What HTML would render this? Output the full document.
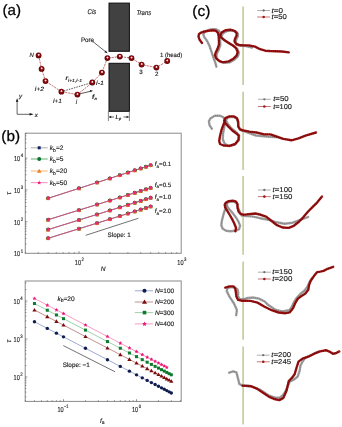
<!DOCTYPE html>
<html><head><meta charset="utf-8"><style>
html,body{margin:0;padding:0;background:#fff;width:342px;height:427px;overflow:hidden}
svg{display:block;font-family:"Liberation Sans", sans-serif;will-change:transform}
text{stroke:#222;stroke-width:0.15px;paint-order:stroke;text-rendering:geometricPrecision}
.B{stroke:#000;stroke-width:0.25px}
</style></head><body>
<svg width="342" height="427" viewBox="0 0 342 427">
<defs>
<radialGradient id="bg" cx="0.5" cy="0.5" r="0.55" fx="0.52" fy="0.36">
<stop offset="0" stop-color="#ffffff"/><stop offset="0.2" stop-color="#f0c4c4"/><stop offset="0.4" stop-color="#920c12"/><stop offset="0.78" stop-color="#720508"/><stop offset="1" stop-color="#3c0000"/>
</radialGradient>
<rect id="msq" x="-1.5" y="-1.5" width="3" height="3" fill="#102060"/>
<circle id="mci" r="2" fill="#107030"/>
<path id="mtr" d="M0,-2.3 L2.3,1.8 L-2.3,1.8z" fill="#f08020"/>
<path id="mst" d="M0,-2.2 L0.62,-0.78 L2.1,-0.68 L1,0.38 L1.32,1.85 L0,1.1 L-1.32,1.85 L-1,0.38 L-2.1,-0.68 L-0.62,-0.78z" fill="#f0207a"/>
<circle id="mci2" r="1.7" fill="#101c50"/>
<path id="mtr2" d="M0,-2.1 L2.1,1.5 L-2.1,1.5z" fill="#7a0c0c"/>
<rect id="msq2" x="-1.5" y="-1.5" width="3" height="3" fill="#0c7a2c"/>
<path id="mst2" d="M0,-2.1 L0.6,-0.75 L2,-0.65 L0.95,0.35 L1.25,1.75 L0,1.05 L-1.25,1.75 L-0.95,0.35 L-2,-0.65 L-0.6,-0.75z" fill="#ec1a74"/>
</defs>
<text x="2.5" y="15.3" font-size="15" text-anchor="start" fill="#000" textLength="18.5" lengthAdjust="spacingAndGlyphs" class="B">(a)</text>
<rect x="109" y="3.1" width="20.4" height="48.2" fill="#414141" stroke="#0e0e0e" stroke-width="1"/>
<rect x="109" y="63.3" width="20.4" height="48" fill="#414141" stroke="#0e0e0e" stroke-width="1"/>
<line x1="108.4" y1="111" x2="108.4" y2="121" stroke="#555" stroke-width="0.7"/>
<line x1="129.4" y1="111" x2="129.4" y2="121" stroke="#555" stroke-width="0.7"/>
<line x1="109" y1="117" x2="114" y2="117" stroke="#222" stroke-width="0.7"/>
<line x1="123.5" y1="117" x2="128.8" y2="117" stroke="#222" stroke-width="0.7"/>
<path d="M109,117 l2.2,-1.2 v2.4z M128.8,117 l-2.2,-1.2 v2.4z" fill="#222"/>
<text x="115.6" y="119" font-size="6" font-style="italic">L<tspan font-size="4" dy="1">p</tspan></text>
<text x="87.6" y="14.4" font-size="6.8" text-anchor="start" fill="#222" font-style="italic" textLength="8.6" lengthAdjust="spacingAndGlyphs">Cis</text>
<text x="136.4" y="14.6" font-size="7" text-anchor="start" fill="#222" font-style="italic" textLength="14.9" lengthAdjust="spacingAndGlyphs">Trans</text>
<text x="80.9" y="41.8" font-size="6.5" text-anchor="start" fill="#111" textLength="13.2" lengthAdjust="spacingAndGlyphs">Pore</text>
<line x1="92.6" y1="41.4" x2="105.5" y2="51.6" stroke="#222" stroke-width="0.7"/>
<path d="M107.5,53.2 L104.46,52.24 L105.8,50.5z" fill="#111"/>
<path d="M38.6,55.4 L41.6,68.9 L45.5,81.1 L61.4,91.7 L77.4,94.6 L92.3,82.5 L101.9,72.6 L107.4,58.1 L119.8,56.6 L131.5,58.1 L141.6,64.6 L156.4,67.6 L167.2,61" fill="none" stroke="#b85454" stroke-width="0.85" stroke-dasharray="2.2,0.9"/>
<line x1="61.4" y1="91.7" x2="92.3" y2="82.5" stroke="#222" stroke-width="0.8" stroke-dasharray="1.5,1.1"/>
<circle cx="38.6" cy="55.4" r="2.9" fill="url(#bg)"/>
<circle cx="41.6" cy="68.9" r="2.9" fill="url(#bg)"/>
<circle cx="45.5" cy="81.1" r="2.9" fill="url(#bg)"/>
<circle cx="61.4" cy="91.7" r="2.9" fill="url(#bg)"/>
<circle cx="77.4" cy="94.6" r="2.9" fill="url(#bg)"/>
<circle cx="92.3" cy="82.5" r="2.9" fill="url(#bg)"/>
<circle cx="101.9" cy="72.6" r="2.9" fill="url(#bg)"/>
<circle cx="107.4" cy="58.1" r="2.9" fill="url(#bg)"/>
<circle cx="119.8" cy="56.6" r="2.9" fill="url(#bg)"/>
<circle cx="131.5" cy="58.1" r="2.9" fill="url(#bg)"/>
<circle cx="141.6" cy="64.6" r="2.9" fill="url(#bg)"/>
<circle cx="156.4" cy="67.6" r="2.9" fill="url(#bg)"/>
<circle cx="167.2" cy="61" r="2.9" fill="url(#bg)"/>
<line x1="79" y1="94" x2="90" y2="91.4" stroke="#111" stroke-width="0.7"/>
<path d="M93,90.8 l-3.2,-0.7 l0.6,2.2z" fill="#111"/>
<text x="29.6" y="57.4" font-size="6.2" text-anchor="start" fill="#222" font-style="italic" textLength="4.3" lengthAdjust="spacingAndGlyphs">N</text>
<text x="34.8" y="90.7" font-size="6" text-anchor="start" fill="#222" font-style="italic" textLength="9.2" lengthAdjust="spacingAndGlyphs">i+2</text>
<text x="52.9" y="102.7" font-size="6" text-anchor="start" fill="#222" font-style="italic" textLength="9" lengthAdjust="spacingAndGlyphs">i+1</text>
<text x="75.8" y="104.1" font-size="6" text-anchor="start" fill="#222" font-style="italic">i</text>
<text x="96.1" y="85.3" font-size="6" text-anchor="start" fill="#222" font-style="italic" textLength="7.9" lengthAdjust="spacingAndGlyphs">i-1</text>
<text x="65.6" y="80.4" font-size="6.4" font-style="italic" font-weight="bold" fill="#222">r</text>
<text x="68" y="82.2" font-size="4.4" font-style="italic" fill="#222" textLength="14" lengthAdjust="spacingAndGlyphs">i+1,i-1</text>
<text x="91.9" y="98.7" font-size="6.6" font-style="italic" font-weight="bold" fill="#222">f</text>
<text x="94.4" y="100.1" font-size="4.2" font-style="italic" fill="#222">a</text>
<text x="139.2" y="73.5" font-size="6.2" text-anchor="start" fill="#222">3</text>
<text x="155" y="76.4" font-size="6.2" text-anchor="start" fill="#222">2</text>
<text x="159.9" y="57.4" font-size="6.2" text-anchor="start" fill="#222" textLength="22.4" lengthAdjust="spacingAndGlyphs">1 (head)</text>
<path d="M17.1,114.3 V101 M17.1,114.3 H30" stroke="#555" stroke-width="0.9" fill="none"/>
<path d="M17.1,98.2 L15.8,101.8 L18.4,101.8z M33.6,114.3 L29.6,113 L29.6,115.6z" fill="#111"/>
<text x="19" y="98.2" font-size="6.2" text-anchor="start" fill="#222" font-style="italic">y</text>
<text x="34.8" y="117.2" font-size="6.2" text-anchor="start" fill="#222" font-style="italic">x</text>
<text x="1.3" y="141.3" font-size="15" text-anchor="start" fill="#000" textLength="18.7" lengthAdjust="spacingAndGlyphs" class="B">(b)</text>
<rect x="25.3" y="133.2" width="155.89999999999998" height="120.10000000000002" fill="none" stroke="#8a8a8a" stroke-width="1"/>
<path d="M25.3,243.93h1.2 M25.3,238.33h1.2 M25.3,234.35h1.2 M25.3,231.27h1.2 M25.3,228.75h1.2 M25.3,226.63h1.2 M25.3,224.78h1.2 M25.3,223.16h1.2 M25.3,221.70h2.2 M25.3,212.13h1.2 M25.3,206.53h1.2 M25.3,202.55h1.2 M25.3,199.47h1.2 M25.3,196.95h1.2 M25.3,194.83h1.2 M25.3,192.98h1.2 M25.3,191.36h1.2 M25.3,189.90h2.2 M25.3,180.33h1.2 M25.3,174.73h1.2 M25.3,170.75h1.2 M25.3,167.67h1.2 M25.3,165.15h1.2 M25.3,163.03h1.2 M25.3,161.18h1.2 M25.3,159.56h1.2 M25.3,158.10h2.2 M25.3,148.53h1.2 M25.3,142.93h1.2 M25.3,138.95h1.2 M25.3,135.87h1.2 M25.3,133.35h1.2 M25.40,253.3v-1.2 M38.21,253.3v-1.2 M48.14,253.3v-1.2 M56.26,253.3v-1.2 M63.12,253.3v-1.2 M69.07,253.3v-1.2 M74.31,253.3v-1.2 M79.00,253.3v-2.2 M109.86,253.3v-1.2 M127.90,253.3v-1.2 M140.71,253.3v-1.2 M150.64,253.3v-1.2 M158.76,253.3v-1.2 M165.62,253.3v-1.2 M171.57,253.3v-1.2 M176.81,253.3v-1.2" stroke="#333" stroke-width="0.5" fill="none"/>
<text x="14.00" y="256.30" font-size="7.2" fill="#222" textLength="6.2" lengthAdjust="spacingAndGlyphs">10</text>
<text x="20.70" y="252.80" font-size="5" fill="#222" textLength="2.4" lengthAdjust="spacingAndGlyphs">1</text>
<text x="14.00" y="224.50" font-size="7.2" fill="#222" textLength="6.2" lengthAdjust="spacingAndGlyphs">10</text>
<text x="20.70" y="221.00" font-size="5" fill="#222" textLength="2.4" lengthAdjust="spacingAndGlyphs">2</text>
<text x="14.00" y="192.70" font-size="7.2" fill="#222" textLength="6.2" lengthAdjust="spacingAndGlyphs">10</text>
<text x="20.70" y="189.20" font-size="5" fill="#222" textLength="2.4" lengthAdjust="spacingAndGlyphs">3</text>
<text x="14.00" y="160.90" font-size="7.2" fill="#222" textLength="6.2" lengthAdjust="spacingAndGlyphs">10</text>
<text x="20.70" y="157.40" font-size="5" fill="#222" textLength="2.4" lengthAdjust="spacingAndGlyphs">4</text>
<text x="74.80" y="264.90" font-size="7.2" fill="#222" textLength="6.2" lengthAdjust="spacingAndGlyphs">10</text>
<text x="81.50" y="261.40" font-size="5" fill="#222" textLength="2.4" lengthAdjust="spacingAndGlyphs">2</text>
<text x="177.30" y="264.90" font-size="7.2" fill="#222" textLength="6.2" lengthAdjust="spacingAndGlyphs">10</text>
<text x="184.00" y="261.40" font-size="5" fill="#222" textLength="2.4" lengthAdjust="spacingAndGlyphs">3</text>
<text x="0" y="0" font-size="7" font-style="italic" fill="#222" transform="translate(10.9,194.8) rotate(-90)">τ</text>
<text x="100.8" y="271" font-size="6.6" text-anchor="start" fill="#222" font-style="italic">N</text>
<path d="M48.14,198.30 L79.00,188.34 L97.05,182.52 L109.86,178.39 L119.79,175.18 L127.90,172.56 L134.77,170.35 L140.71,168.43 L145.95,166.74 L150.64,165.23" fill="none" stroke="#555" stroke-width="0.9"/>
<path d="M48.14,198.30 L79.00,188.34 L97.05,182.52 L109.86,178.39 L119.79,175.18 L127.90,172.56 L134.77,170.35 L140.71,168.43 L145.95,166.74 L150.64,165.23" fill="none" stroke="#e85088" stroke-width="0.75"/>
<use href="#msq" x="48.14" y="198.30"/>
<use href="#mci" x="48.14" y="198.30"/>
<use href="#mtr" x="48.14" y="198.30"/>
<use href="#mst" x="48.14" y="198.30"/>
<use href="#msq" x="79.00" y="188.34"/>
<use href="#mci" x="79.00" y="188.34"/>
<use href="#mtr" x="79.00" y="188.34"/>
<use href="#mst" x="79.00" y="188.34"/>
<use href="#msq" x="97.05" y="182.52"/>
<use href="#mci" x="97.05" y="182.52"/>
<use href="#mtr" x="97.05" y="182.52"/>
<use href="#mst" x="97.05" y="182.52"/>
<use href="#msq" x="109.86" y="178.39"/>
<use href="#mci" x="109.86" y="178.39"/>
<use href="#mtr" x="109.86" y="178.39"/>
<use href="#mst" x="109.86" y="178.39"/>
<use href="#msq" x="119.79" y="175.18"/>
<use href="#mci" x="119.79" y="175.18"/>
<use href="#mtr" x="119.79" y="175.18"/>
<use href="#mst" x="119.79" y="175.18"/>
<use href="#msq" x="127.90" y="172.56"/>
<use href="#mci" x="127.90" y="172.56"/>
<use href="#mtr" x="127.90" y="172.56"/>
<use href="#mst" x="127.90" y="172.56"/>
<use href="#msq" x="134.77" y="170.35"/>
<use href="#mci" x="134.77" y="170.35"/>
<use href="#mtr" x="134.77" y="170.35"/>
<use href="#mst" x="134.77" y="170.35"/>
<use href="#msq" x="140.71" y="168.43"/>
<use href="#mci" x="140.71" y="168.43"/>
<use href="#mtr" x="140.71" y="168.43"/>
<use href="#mst" x="140.71" y="168.43"/>
<use href="#msq" x="145.95" y="166.74"/>
<use href="#mci" x="145.95" y="166.74"/>
<use href="#mtr" x="145.95" y="166.74"/>
<use href="#mst" x="145.95" y="166.74"/>
<use href="#msq" x="150.64" y="165.23"/>
<use href="#mci" x="150.64" y="165.23"/>
<use href="#mtr" x="150.64" y="165.23"/>
<use href="#mst" x="150.64" y="165.23"/>
<path d="M48.14,219.70 L79.00,210.13 L97.05,204.53 L109.86,200.55 L119.79,197.47 L127.90,194.95 L134.77,192.83 L140.71,190.98 L145.95,189.36 L150.64,187.90" fill="none" stroke="#555" stroke-width="0.9"/>
<path d="M48.14,219.70 L79.00,210.13 L97.05,204.53 L109.86,200.55 L119.79,197.47 L127.90,194.95 L134.77,192.83 L140.71,190.98 L145.95,189.36 L150.64,187.90" fill="none" stroke="#e85088" stroke-width="0.75"/>
<use href="#msq" x="48.14" y="219.70"/>
<use href="#mci" x="48.14" y="219.70"/>
<use href="#mtr" x="48.14" y="219.70"/>
<use href="#mst" x="48.14" y="219.70"/>
<use href="#msq" x="79.00" y="210.13"/>
<use href="#mci" x="79.00" y="210.13"/>
<use href="#mtr" x="79.00" y="210.13"/>
<use href="#mst" x="79.00" y="210.13"/>
<use href="#msq" x="97.05" y="204.53"/>
<use href="#mci" x="97.05" y="204.53"/>
<use href="#mtr" x="97.05" y="204.53"/>
<use href="#mst" x="97.05" y="204.53"/>
<use href="#msq" x="109.86" y="200.55"/>
<use href="#mci" x="109.86" y="200.55"/>
<use href="#mtr" x="109.86" y="200.55"/>
<use href="#mst" x="109.86" y="200.55"/>
<use href="#msq" x="119.79" y="197.47"/>
<use href="#mci" x="119.79" y="197.47"/>
<use href="#mtr" x="119.79" y="197.47"/>
<use href="#mst" x="119.79" y="197.47"/>
<use href="#msq" x="127.90" y="194.95"/>
<use href="#mci" x="127.90" y="194.95"/>
<use href="#mtr" x="127.90" y="194.95"/>
<use href="#mst" x="127.90" y="194.95"/>
<use href="#msq" x="134.77" y="192.83"/>
<use href="#mci" x="134.77" y="192.83"/>
<use href="#mtr" x="134.77" y="192.83"/>
<use href="#mst" x="134.77" y="192.83"/>
<use href="#msq" x="140.71" y="190.98"/>
<use href="#mci" x="140.71" y="190.98"/>
<use href="#mtr" x="140.71" y="190.98"/>
<use href="#mst" x="140.71" y="190.98"/>
<use href="#msq" x="145.95" y="189.36"/>
<use href="#mci" x="145.95" y="189.36"/>
<use href="#mtr" x="145.95" y="189.36"/>
<use href="#mst" x="145.95" y="189.36"/>
<use href="#msq" x="150.64" y="187.90"/>
<use href="#mci" x="150.64" y="187.90"/>
<use href="#mtr" x="150.64" y="187.90"/>
<use href="#mst" x="150.64" y="187.90"/>
<path d="M48.14,229.60 L79.00,220.03 L97.05,214.43 L109.86,210.45 L119.79,207.37 L127.90,204.85 L134.77,202.73 L140.71,200.88 L145.95,199.26 L150.64,197.80" fill="none" stroke="#555" stroke-width="0.9"/>
<path d="M48.14,229.60 L79.00,220.03 L97.05,214.43 L109.86,210.45 L119.79,207.37 L127.90,204.85 L134.77,202.73 L140.71,200.88 L145.95,199.26 L150.64,197.80" fill="none" stroke="#e85088" stroke-width="0.75"/>
<use href="#msq" x="48.14" y="229.60"/>
<use href="#mci" x="48.14" y="229.60"/>
<use href="#mtr" x="48.14" y="229.60"/>
<use href="#mst" x="48.14" y="229.60"/>
<use href="#msq" x="79.00" y="220.03"/>
<use href="#mci" x="79.00" y="220.03"/>
<use href="#mtr" x="79.00" y="220.03"/>
<use href="#mst" x="79.00" y="220.03"/>
<use href="#msq" x="97.05" y="214.43"/>
<use href="#mci" x="97.05" y="214.43"/>
<use href="#mtr" x="97.05" y="214.43"/>
<use href="#mst" x="97.05" y="214.43"/>
<use href="#msq" x="109.86" y="210.45"/>
<use href="#mci" x="109.86" y="210.45"/>
<use href="#mtr" x="109.86" y="210.45"/>
<use href="#mst" x="109.86" y="210.45"/>
<use href="#msq" x="119.79" y="207.37"/>
<use href="#mci" x="119.79" y="207.37"/>
<use href="#mtr" x="119.79" y="207.37"/>
<use href="#mst" x="119.79" y="207.37"/>
<use href="#msq" x="127.90" y="204.85"/>
<use href="#mci" x="127.90" y="204.85"/>
<use href="#mtr" x="127.90" y="204.85"/>
<use href="#mst" x="127.90" y="204.85"/>
<use href="#msq" x="134.77" y="202.73"/>
<use href="#mci" x="134.77" y="202.73"/>
<use href="#mtr" x="134.77" y="202.73"/>
<use href="#mst" x="134.77" y="202.73"/>
<use href="#msq" x="140.71" y="200.88"/>
<use href="#mci" x="140.71" y="200.88"/>
<use href="#mtr" x="140.71" y="200.88"/>
<use href="#mst" x="140.71" y="200.88"/>
<use href="#msq" x="145.95" y="199.26"/>
<use href="#mci" x="145.95" y="199.26"/>
<use href="#mtr" x="145.95" y="199.26"/>
<use href="#mst" x="145.95" y="199.26"/>
<use href="#msq" x="150.64" y="197.80"/>
<use href="#mci" x="150.64" y="197.80"/>
<use href="#mtr" x="150.64" y="197.80"/>
<use href="#mst" x="150.64" y="197.80"/>
<path d="M48.14,238.30 L79.00,228.73 L97.05,223.13 L109.86,219.15 L119.79,216.07 L127.90,213.55 L134.77,211.43 L140.71,209.58 L145.95,207.96 L150.64,206.50" fill="none" stroke="#555" stroke-width="0.9"/>
<path d="M48.14,238.30 L79.00,228.73 L97.05,223.13 L109.86,219.15 L119.79,216.07 L127.90,213.55 L134.77,211.43 L140.71,209.58 L145.95,207.96 L150.64,206.50" fill="none" stroke="#e85088" stroke-width="0.75"/>
<use href="#msq" x="48.14" y="238.30"/>
<use href="#mci" x="48.14" y="238.30"/>
<use href="#mtr" x="48.14" y="238.30"/>
<use href="#mst" x="48.14" y="238.30"/>
<use href="#msq" x="79.00" y="228.73"/>
<use href="#mci" x="79.00" y="228.73"/>
<use href="#mtr" x="79.00" y="228.73"/>
<use href="#mst" x="79.00" y="228.73"/>
<use href="#msq" x="97.05" y="223.13"/>
<use href="#mci" x="97.05" y="223.13"/>
<use href="#mtr" x="97.05" y="223.13"/>
<use href="#mst" x="97.05" y="223.13"/>
<use href="#msq" x="109.86" y="219.15"/>
<use href="#mci" x="109.86" y="219.15"/>
<use href="#mtr" x="109.86" y="219.15"/>
<use href="#mst" x="109.86" y="219.15"/>
<use href="#msq" x="119.79" y="216.07"/>
<use href="#mci" x="119.79" y="216.07"/>
<use href="#mtr" x="119.79" y="216.07"/>
<use href="#mst" x="119.79" y="216.07"/>
<use href="#msq" x="127.90" y="213.55"/>
<use href="#mci" x="127.90" y="213.55"/>
<use href="#mtr" x="127.90" y="213.55"/>
<use href="#mst" x="127.90" y="213.55"/>
<use href="#msq" x="134.77" y="211.43"/>
<use href="#mci" x="134.77" y="211.43"/>
<use href="#mtr" x="134.77" y="211.43"/>
<use href="#mst" x="134.77" y="211.43"/>
<use href="#msq" x="140.71" y="209.58"/>
<use href="#mci" x="140.71" y="209.58"/>
<use href="#mtr" x="140.71" y="209.58"/>
<use href="#mst" x="140.71" y="209.58"/>
<use href="#msq" x="145.95" y="207.96"/>
<use href="#mci" x="145.95" y="207.96"/>
<use href="#mtr" x="145.95" y="207.96"/>
<use href="#mst" x="145.95" y="207.96"/>
<use href="#msq" x="150.64" y="206.50"/>
<use href="#mci" x="150.64" y="206.50"/>
<use href="#mtr" x="150.64" y="206.50"/>
<use href="#mst" x="150.64" y="206.50"/>
<text x="154.8" y="166" font-size="6.2" fill="#222"><tspan font-style="italic">f</tspan><tspan font-size="4.5" dy="1.8">a</tspan><tspan dy="-1.8">=0.1</tspan></text>
<text x="154.8" y="186.6" font-size="6.2" fill="#222"><tspan font-style="italic">f</tspan><tspan font-size="4.5" dy="1.8">a</tspan><tspan dy="-1.8">=0.5</tspan></text>
<text x="154.8" y="199" font-size="6.2" fill="#222"><tspan font-style="italic">f</tspan><tspan font-size="4.5" dy="1.8">a</tspan><tspan dy="-1.8">=1.0</tspan></text>
<text x="154.8" y="212.7" font-size="6.2" fill="#222"><tspan font-style="italic">f</tspan><tspan font-size="4.5" dy="1.8">a</tspan><tspan dy="-1.8">=2.0</tspan></text>
<line x1="85.7" y1="235.3" x2="138.3" y2="218.3" stroke="#333" stroke-width="0.7"/>
<text x="107.6" y="236.9" font-size="6.3" text-anchor="start" fill="#222" textLength="23.2" lengthAdjust="spacingAndGlyphs">Slope: 1</text>
<line x1="30.8" y1="147.8" x2="47.7" y2="147.8" stroke="#999" stroke-width="0.8"/>
<use href="#msq" x="39.2" y="147.8"/>
<text x="49.8" y="150.10000000000002" font-size="6.6" fill="#222"><tspan font-style="italic">k</tspan><tspan font-size="5" dy="1.4">b</tspan><tspan dy="-1.4">=2</tspan></text>
<line x1="30.8" y1="159" x2="47.7" y2="159" stroke="#3aa050" stroke-width="0.8"/>
<use href="#mci" x="39.2" y="159"/>
<text x="49.8" y="161.3" font-size="6.6" fill="#222"><tspan font-style="italic">k</tspan><tspan font-size="5" dy="1.4">b</tspan><tspan dy="-1.4">=5</tspan></text>
<line x1="30.8" y1="171" x2="47.7" y2="171" stroke="#f5a050" stroke-width="0.8"/>
<use href="#mtr" x="39.2" y="171"/>
<text x="49.8" y="173.3" font-size="6.6" fill="#222"><tspan font-style="italic">k</tspan><tspan font-size="5" dy="1.4">b</tspan><tspan dy="-1.4">=20</tspan></text>
<line x1="30.8" y1="182.7" x2="47.7" y2="182.7" stroke="#f070a8" stroke-width="0.8"/>
<use href="#mst" x="39.2" y="182.7"/>
<text x="49.8" y="185.0" font-size="6.6" fill="#222"><tspan font-style="italic">k</tspan><tspan font-size="5" dy="1.4">b</tspan><tspan dy="-1.4">=50</tspan></text>
<rect x="25.2" y="281.0" width="156.0" height="120.39999999999998" fill="none" stroke="#8a8a8a" stroke-width="1"/>
<path d="M25.2,396.87h1.2 M25.2,392.12h1.2 M25.2,388.44h1.2 M25.2,385.43h1.2 M25.2,382.89h1.2 M25.2,380.68h1.2 M25.2,378.74h1.2 M25.2,377.00h2.2 M25.2,365.56h1.2 M25.2,358.87h1.2 M25.2,354.12h1.2 M25.2,350.44h1.2 M25.2,347.43h1.2 M25.2,344.89h1.2 M25.2,342.68h1.2 M25.2,340.74h1.2 M25.2,339.00h2.2 M25.2,327.56h1.2 M25.2,320.87h1.2 M25.2,316.12h1.2 M25.2,312.44h1.2 M25.2,309.43h1.2 M25.2,306.89h1.2 M25.2,304.68h1.2 M25.2,302.74h1.2 M25.2,301.00h2.2 M25.2,289.56h1.2 M25.2,282.87h1.2 M25.33,401.4v-1.2 M34.45,401.4v-1.2 M41.52,401.4v-1.2 M47.31,401.4v-1.2 M52.19,401.4v-1.2 M56.43,401.4v-1.2 M60.16,401.4v-1.2 M63.50,401.4v-2.2 M85.48,401.4v-1.2 M98.33,401.4v-1.2 M107.45,401.4v-1.2 M114.52,401.4v-1.2 M120.31,401.4v-1.2 M125.19,401.4v-1.2 M129.43,401.4v-1.2 M133.16,401.4v-1.2 M136.50,401.4v-2.2 M158.48,401.4v-1.2 M171.33,401.4v-1.2 M180.45,401.4v-1.2" stroke="#333" stroke-width="0.5" fill="none"/>
<text x="13.60" y="379.80" font-size="7.2" fill="#222" textLength="6.2" lengthAdjust="spacingAndGlyphs">10</text>
<text x="20.30" y="376.30" font-size="5" fill="#222" textLength="2.4" lengthAdjust="spacingAndGlyphs">2</text>
<text x="13.60" y="341.80" font-size="7.2" fill="#222" textLength="6.2" lengthAdjust="spacingAndGlyphs">10</text>
<text x="20.30" y="338.30" font-size="5" fill="#222" textLength="2.4" lengthAdjust="spacingAndGlyphs">3</text>
<text x="13.60" y="303.80" font-size="7.2" fill="#222" textLength="6.2" lengthAdjust="spacingAndGlyphs">10</text>
<text x="20.30" y="300.30" font-size="5" fill="#222" textLength="2.4" lengthAdjust="spacingAndGlyphs">4</text>
<text x="57.40" y="411.50" font-size="7.2" fill="#222" textLength="6.2" lengthAdjust="spacingAndGlyphs">10</text>
<text x="64.10" y="408.00" font-size="5" fill="#222" textLength="4.4" lengthAdjust="spacingAndGlyphs">−1</text>
<text x="132.00" y="411.50" font-size="7.2" fill="#222" textLength="6.2" lengthAdjust="spacingAndGlyphs">10</text>
<text x="138.70" y="408.00" font-size="5" fill="#222" textLength="2.4" lengthAdjust="spacingAndGlyphs">0</text>
<text x="0" y="0" font-size="7" font-style="italic" fill="#222" transform="translate(11,342.4) rotate(-90)">τ</text>
<text x="100" y="422.8" font-size="6.4" fill="#222"><tspan font-style="italic">f</tspan><tspan font-size="5" dy="1.6">a</tspan></text>
<path d="M34.45,321.72 L47.31,328.41 L56.43,333.16 L63.50,336.84 L85.48,348.28 L107.45,359.72 L120.31,366.41 L129.43,371.16 L136.50,374.84 L142.28,377.85 L147.17,380.39 L151.40,382.59 L155.13,384.54 L158.48,386.28 L161.50,387.85 L164.26,389.29 L166.79,390.61 L169.14,391.83 L171.33,392.97" fill="none" stroke="#8696c4" stroke-width="0.8"/>
<use href="#mci2" x="34.45" y="321.72"/>
<use href="#mci2" x="47.31" y="328.41"/>
<use href="#mci2" x="56.43" y="333.16"/>
<use href="#mci2" x="63.50" y="336.84"/>
<use href="#mci2" x="85.48" y="348.28"/>
<use href="#mci2" x="107.45" y="359.72"/>
<use href="#mci2" x="120.31" y="366.41"/>
<use href="#mci2" x="129.43" y="371.16"/>
<use href="#mci2" x="136.50" y="374.84"/>
<use href="#mci2" x="142.28" y="377.85"/>
<use href="#mci2" x="147.17" y="380.39"/>
<use href="#mci2" x="151.40" y="382.59"/>
<use href="#mci2" x="155.13" y="384.54"/>
<use href="#mci2" x="158.48" y="386.28"/>
<use href="#mci2" x="161.50" y="387.85"/>
<use href="#mci2" x="164.26" y="389.29"/>
<use href="#mci2" x="166.79" y="390.61"/>
<use href="#mci2" x="169.14" y="391.83"/>
<use href="#mci2" x="171.33" y="392.97"/>
<path d="M34.45,309.99 L47.31,316.68 L56.43,321.43 L63.50,325.11 L85.48,336.55 L107.45,347.99 L120.31,354.68 L129.43,359.43 L136.50,363.11 L142.28,366.12 L147.17,368.66 L151.40,370.87 L155.13,372.81 L158.48,374.55 L161.50,376.12 L164.26,377.56 L166.79,378.88 L169.14,380.10 L171.33,381.24" fill="none" stroke="#b47474" stroke-width="0.8"/>
<use href="#mtr2" x="34.45" y="309.99"/>
<use href="#mtr2" x="47.31" y="316.68"/>
<use href="#mtr2" x="56.43" y="321.43"/>
<use href="#mtr2" x="63.50" y="325.11"/>
<use href="#mtr2" x="85.48" y="336.55"/>
<use href="#mtr2" x="107.45" y="347.99"/>
<use href="#mtr2" x="120.31" y="354.68"/>
<use href="#mtr2" x="129.43" y="359.43"/>
<use href="#mtr2" x="136.50" y="363.11"/>
<use href="#mtr2" x="142.28" y="366.12"/>
<use href="#mtr2" x="147.17" y="368.66"/>
<use href="#mtr2" x="151.40" y="370.87"/>
<use href="#mtr2" x="155.13" y="372.81"/>
<use href="#mtr2" x="158.48" y="374.55"/>
<use href="#mtr2" x="161.50" y="376.12"/>
<use href="#mtr2" x="164.26" y="377.56"/>
<use href="#mtr2" x="166.79" y="378.88"/>
<use href="#mtr2" x="169.14" y="380.10"/>
<use href="#mtr2" x="171.33" y="381.24"/>
<path d="M34.45,303.54 L47.31,310.23 L56.43,314.98 L63.50,318.66 L85.48,330.10 L107.45,341.54 L120.31,348.23 L129.43,352.98 L136.50,356.66 L142.28,359.67 L147.17,362.21 L151.40,364.42 L155.13,366.36 L158.48,368.10 L161.50,369.67 L164.26,371.11 L166.79,372.43 L169.14,373.65 L171.33,374.79" fill="none" stroke="#84c494" stroke-width="0.8"/>
<use href="#msq2" x="34.45" y="303.54"/>
<use href="#msq2" x="47.31" y="310.23"/>
<use href="#msq2" x="56.43" y="314.98"/>
<use href="#msq2" x="63.50" y="318.66"/>
<use href="#msq2" x="85.48" y="330.10"/>
<use href="#msq2" x="107.45" y="341.54"/>
<use href="#msq2" x="120.31" y="348.23"/>
<use href="#msq2" x="129.43" y="352.98"/>
<use href="#msq2" x="136.50" y="356.66"/>
<use href="#msq2" x="142.28" y="359.67"/>
<use href="#msq2" x="147.17" y="362.21"/>
<use href="#msq2" x="151.40" y="364.42"/>
<use href="#msq2" x="155.13" y="366.36"/>
<use href="#msq2" x="158.48" y="368.10"/>
<use href="#msq2" x="161.50" y="369.67"/>
<use href="#msq2" x="164.26" y="371.11"/>
<use href="#msq2" x="166.79" y="372.43"/>
<use href="#msq2" x="169.14" y="373.65"/>
<use href="#msq2" x="171.33" y="374.79"/>
<path d="M34.45,298.48 L47.31,305.17 L56.43,309.92 L63.50,313.60 L85.48,325.04 L107.45,336.48 L120.31,343.17 L129.43,347.92 L136.50,351.60 L142.28,354.61 L147.17,357.15 L151.40,359.36 L155.13,361.30 L158.48,363.04 L161.50,364.61 L164.26,366.05 L166.79,367.37" fill="none" stroke="#f484b4" stroke-width="0.8"/>
<use href="#mst2" x="34.45" y="298.48"/>
<use href="#mst2" x="47.31" y="305.17"/>
<use href="#mst2" x="56.43" y="309.92"/>
<use href="#mst2" x="63.50" y="313.60"/>
<use href="#mst2" x="85.48" y="325.04"/>
<use href="#mst2" x="107.45" y="336.48"/>
<use href="#mst2" x="120.31" y="343.17"/>
<use href="#mst2" x="129.43" y="347.92"/>
<use href="#mst2" x="136.50" y="351.60"/>
<use href="#mst2" x="142.28" y="354.61"/>
<use href="#mst2" x="147.17" y="357.15"/>
<use href="#mst2" x="151.40" y="359.36"/>
<use href="#mst2" x="155.13" y="361.30"/>
<use href="#mst2" x="158.48" y="363.04"/>
<use href="#mst2" x="161.50" y="364.61"/>
<use href="#mst2" x="164.26" y="366.05"/>
<use href="#mst2" x="166.79" y="367.37"/>
<line x1="63.3" y1="345.6" x2="115.1" y2="371.8" stroke="#333" stroke-width="0.7"/>
<text x="62.7" y="367.2" font-size="6.3" text-anchor="start" fill="#222" textLength="27.2" lengthAdjust="spacingAndGlyphs">Slope: −1</text>
<text x="57.4" y="301" font-size="6.6" fill="#222"><tspan font-style="italic">k</tspan><tspan font-size="5" dy="1.4">b</tspan><tspan dy="-1.4">=20</tspan></text>
<line x1="134.8" y1="290.8" x2="153" y2="290.8" stroke="#8696c4" stroke-width="0.8"/>
<use href="#mci2" transform="translate(144.5,290.8) scale(1.2)"/>
<text x="154.9" y="293.0" font-size="6.5" fill="#222" textLength="19.3" lengthAdjust="spacingAndGlyphs"><tspan font-style="italic">N</tspan>=100</text>
<line x1="134.8" y1="302" x2="153" y2="302" stroke="#b47474" stroke-width="0.8"/>
<use href="#mtr2" transform="translate(144.5,302) scale(1.2)"/>
<text x="154.9" y="304.2" font-size="6.5" fill="#222" textLength="19.3" lengthAdjust="spacingAndGlyphs"><tspan font-style="italic">N</tspan>=200</text>
<line x1="134.8" y1="312.6" x2="153" y2="312.6" stroke="#84c494" stroke-width="0.8"/>
<use href="#msq2" transform="translate(144.5,312.6) scale(1.2)"/>
<text x="154.9" y="314.8" font-size="6.5" fill="#222" textLength="19.3" lengthAdjust="spacingAndGlyphs"><tspan font-style="italic">N</tspan>=300</text>
<line x1="134.8" y1="323.9" x2="153" y2="323.9" stroke="#f484b4" stroke-width="0.8"/>
<use href="#mst2" transform="translate(144.5,323.9) scale(1.2)"/>
<text x="154.9" y="326.09999999999997" font-size="6.5" fill="#222" textLength="19.3" lengthAdjust="spacingAndGlyphs"><tspan font-style="italic">N</tspan>=400</text>
<text x="192.3" y="16.4" font-size="15" text-anchor="start" fill="#000" textLength="18" lengthAdjust="spacingAndGlyphs" class="B">(c)</text>
<line x1="243.1" y1="6.4" x2="243.1" y2="85" stroke="#c2c690" stroke-width="1.5"/>
<line x1="243.1" y1="91.8" x2="243.1" y2="170.1" stroke="#c2c690" stroke-width="1.5"/>
<line x1="243.1" y1="176" x2="243.1" y2="254.7" stroke="#c2c690" stroke-width="1.5"/>
<line x1="243.1" y1="261.4" x2="243.1" y2="339.7" stroke="#c2c690" stroke-width="1.5"/>
<line x1="243.1" y1="346.4" x2="243.1" y2="424.5" stroke="#c2c690" stroke-width="1.5"/>
<line x1="257.2" y1="10.5" x2="270.09999999999997" y2="10.5" stroke="#9a9a9a" stroke-width="0.8"/>
<circle cx="263.65" cy="10.5" r="1.15" fill="#707070"/>
<line x1="257.2" y1="17.0" x2="270.09999999999997" y2="17.0" stroke="#b85858" stroke-width="0.8"/>
<circle cx="263.65" cy="17.0" r="1.3" fill="#a01818"/>
<text x="271.5" y="12.6" font-size="7" fill="#222" textLength="11.5" lengthAdjust="spacingAndGlyphs"><tspan font-style="italic">t</tspan>=0</text>
<text x="271.5" y="19.1" font-size="7" fill="#222" textLength="15.2" lengthAdjust="spacingAndGlyphs"><tspan font-style="italic">t</tspan>=50</text>
<path d="M216.40,66.60 L215.40,62.90 L213.80,58.70 L211.70,52.40 L209.60,46.10 L207.00,40.80 L204.30,37.10 L203.30,34.50 L204.30,32.60 L207.50,30.50 L211.70,29.20 L215.90,29.20 L219.00,30.80 L220.30,33.60 L220.00,37.40 L220.20,41.60 L220.30,45.30 L218.80,49.70 L217.00,53.30 L216.30,56.30 L217.50,59.10 L219.80,61.30 L222.80,62.70 L225.30,62.90 L230.00,62.20 L234.70,59.50 L237.90,56.40 L239.00,52.70 L237.40,49.00 L234.20,46.30 L230.00,43.70 L225.80,41.10 L222.10,37.90 L221.60,35.80 L223.10,33.20 L226.80,31.10 L231.60,30.50 L235.80,31.60 L237.90,33.70 L237.90,36.30 L236.30,39.50 L235.80,42.10 L237.40,44.80 L240.50,45.80 L246.00,46.00 L252.00,47.50" fill="none" stroke="#a6a6a6" stroke-width="2.4" stroke-linejoin="round" stroke-linecap="round"/>
<path d="M216.40,66.60 L215.40,62.90 L213.80,58.70 L211.70,52.40 L209.60,46.10 L207.00,40.80 L204.30,37.10 L203.30,34.50 L204.30,32.60 L207.50,30.50 L211.70,29.20 L215.90,29.20 L219.00,30.80 L220.30,33.60 L220.00,37.40 L220.20,41.60 L220.30,45.30 L218.80,49.70 L217.00,53.30 L216.30,56.30 L217.50,59.10 L219.80,61.30 L222.80,62.70 L225.30,62.90 L230.00,62.20 L234.70,59.50 L237.90,56.40 L239.00,52.70 L237.40,49.00 L234.20,46.30 L230.00,43.70 L225.80,41.10 L222.10,37.90 L221.60,35.80 L223.10,33.20 L226.80,31.10 L231.60,30.50 L235.80,31.60 L237.90,33.70 L237.90,36.30 L236.30,39.50 L235.80,42.10 L237.40,44.80 L240.50,45.80 L246.00,46.00 L252.00,47.50" fill="none" stroke="#848484" stroke-width="1.4" stroke-dasharray="0.01 1.9" stroke-linejoin="round" stroke-linecap="round"/>
<path d="M202.00,42.90 L199.60,39.80 L198.50,36.60 L199.00,34.00 L201.20,32.60 L204.30,31.50 L208.50,30.80 L212.80,30.30 L215.90,30.80 L218.00,32.90 L218.70,36.60 L218.90,40.80 L219.00,44.50 L217.50,48.90 L215.70,52.50 L215.00,55.50 L216.20,58.30 L218.50,60.50 L221.50,61.90 L224.00,62.10 L228.70,61.40 L233.40,58.70 L236.60,55.60 L237.70,51.90 L236.10,48.20 L232.90,45.50 L228.70,42.90 L224.50,40.30 L220.80,37.10 L220.30,35.00 L221.80,32.40 L225.50,30.30 L230.30,29.70 L234.50,30.80 L236.60,32.90 L236.60,35.50 L235.00,38.70 L234.50,41.30 L236.10,44.00 L239.20,45.00 L242.60,45.20 L249.00,45.40 L255.00,46.60 L260.10,49.20 L265.20,50.70 L270.00,51.00 L275.50,51.20 L282.00,51.50 L288.80,52.40" fill="none" stroke="#a01818" stroke-width="2.4" stroke-linejoin="round" stroke-linecap="round"/>
<path d="M202.00,42.90 L199.60,39.80 L198.50,36.60 L199.00,34.00 L201.20,32.60 L204.30,31.50 L208.50,30.80 L212.80,30.30 L215.90,30.80 L218.00,32.90 L218.70,36.60 L218.90,40.80 L219.00,44.50 L217.50,48.90 L215.70,52.50 L215.00,55.50 L216.20,58.30 L218.50,60.50 L221.50,61.90 L224.00,62.10 L228.70,61.40 L233.40,58.70 L236.60,55.60 L237.70,51.90 L236.10,48.20 L232.90,45.50 L228.70,42.90 L224.50,40.30 L220.80,37.10 L220.30,35.00 L221.80,32.40 L225.50,30.30 L230.30,29.70 L234.50,30.80 L236.60,32.90 L236.60,35.50 L235.00,38.70 L234.50,41.30 L236.10,44.00 L239.20,45.00 L242.60,45.20 L249.00,45.40 L255.00,46.60 L260.10,49.20 L265.20,50.70 L270.00,51.00 L275.50,51.20 L282.00,51.50 L288.80,52.40" fill="none" stroke="#700606" stroke-width="1.4" stroke-dasharray="0.01 1.9" stroke-linejoin="round" stroke-linecap="round"/>
<line x1="257.9" y1="99.3" x2="270.79999999999995" y2="99.3" stroke="#9a9a9a" stroke-width="0.8"/>
<circle cx="264.34999999999997" cy="99.3" r="1.15" fill="#707070"/>
<line x1="257.9" y1="106.5" x2="270.79999999999995" y2="106.5" stroke="#b85858" stroke-width="0.8"/>
<circle cx="264.34999999999997" cy="106.5" r="1.3" fill="#a01818"/>
<text x="273.2" y="101.39999999999999" font-size="7" fill="#222" textLength="15.4" lengthAdjust="spacingAndGlyphs"><tspan font-style="italic">t</tspan>=50</text>
<text x="273.2" y="108.6" font-size="7" fill="#222" textLength="18.8" lengthAdjust="spacingAndGlyphs"><tspan font-style="italic">t</tspan>=100</text>
<path d="M211.80,128.70 L209.50,125.20 L208.90,121.10 L210.70,118.20 L214.80,115.80 L219.50,115.60 L223.00,117.00 L224.70,119.40 L225.00,123.00 L224.10,128.00 L223.00,134.00 L222.80,139.20 L224.70,143.90 L229.40,146.20 L234.70,144.60 L238.80,140.50 L239.20,135.50 L236.50,132.50 L231.00,128.00 L227.60,123.50 L226.00,120.00 L228.00,117.20 L233.00,116.80 L236.80,118.80 L238.00,122.50 L238.60,127.00 L240.50,130.00 L244.00,131.20 L247.90,132.60 L255.80,135.50 L263.70,136.30 L272.90,137.10 L276.80,137.10" fill="none" stroke="#a6a6a6" stroke-width="2.4" stroke-linejoin="round" stroke-linecap="round"/>
<path d="M211.80,128.70 L209.50,125.20 L208.90,121.10 L210.70,118.20 L214.80,115.80 L219.50,115.60 L223.00,117.00 L224.70,119.40 L225.00,123.00 L224.10,128.00 L223.00,134.00 L222.80,139.20 L224.70,143.90 L229.40,146.20 L234.70,144.60 L238.80,140.50 L239.20,135.50 L236.50,132.50 L231.00,128.00 L227.60,123.50 L226.00,120.00 L228.00,117.20 L233.00,116.80 L236.80,118.80 L238.00,122.50 L238.60,127.00 L240.50,130.00 L244.00,131.20 L247.90,132.60 L255.80,135.50 L263.70,136.30 L272.90,137.10 L276.80,137.10" fill="none" stroke="#848484" stroke-width="1.4" stroke-dasharray="0.01 1.9" stroke-linejoin="round" stroke-linecap="round"/>
<path d="M225.00,120.50 L223.50,124.50 L221.50,130.00 L220.00,136.00 L219.20,141.00 L220.00,144.00 L223.50,145.50 L229.40,145.90 L235.20,144.00 L238.50,139.80 L238.70,135.70 L236.40,133.40 L232.30,130.50 L228.20,126.40 L225.30,122.90 L224.10,120.50 L225.30,118.20 L229.40,116.40 L234.10,116.40 L237.00,118.20 L238.20,121.70 L238.20,126.40 L240.00,129.30 L243.40,130.50 L249.40,131.60 L256.40,132.50 L263.40,134.20 L270.40,134.40 L276.30,136.50 L283.30,138.90 L291.50,140.30 L298.50,138.40 L305.50,135.60 L316.00,132.50" fill="none" stroke="#a01818" stroke-width="2.4" stroke-linejoin="round" stroke-linecap="round"/>
<path d="M225.00,120.50 L223.50,124.50 L221.50,130.00 L220.00,136.00 L219.20,141.00 L220.00,144.00 L223.50,145.50 L229.40,145.90 L235.20,144.00 L238.50,139.80 L238.70,135.70 L236.40,133.40 L232.30,130.50 L228.20,126.40 L225.30,122.90 L224.10,120.50 L225.30,118.20 L229.40,116.40 L234.10,116.40 L237.00,118.20 L238.20,121.70 L238.20,126.40 L240.00,129.30 L243.40,130.50 L249.40,131.60 L256.40,132.50 L263.40,134.20 L270.40,134.40 L276.30,136.50 L283.30,138.90 L291.50,140.30 L298.50,138.40 L305.50,135.60 L316.00,132.50" fill="none" stroke="#700606" stroke-width="1.4" stroke-dasharray="0.01 1.9" stroke-linejoin="round" stroke-linecap="round"/>
<line x1="257.9" y1="190" x2="270.79999999999995" y2="190" stroke="#9a9a9a" stroke-width="0.8"/>
<circle cx="264.34999999999997" cy="190" r="1.15" fill="#707070"/>
<line x1="257.9" y1="196.6" x2="270.79999999999995" y2="196.6" stroke="#b85858" stroke-width="0.8"/>
<circle cx="264.34999999999997" cy="196.6" r="1.3" fill="#a01818"/>
<text x="272.6" y="192.1" font-size="7" fill="#222" textLength="19.8" lengthAdjust="spacingAndGlyphs"><tspan font-style="italic">t</tspan>=100</text>
<text x="272.6" y="198.7" font-size="7" fill="#222" textLength="19.8" lengthAdjust="spacingAndGlyphs"><tspan font-style="italic">t</tspan>=150</text>
<path d="M226.80,203.50 L226.50,207.00 L224.70,210.40 L223.20,215.50 L221.90,220.60 L221.30,225.20 L222.70,228.80 L226.20,230.80 L230.30,231.30 L234.90,230.80 L239.00,229.30 L240.10,225.70 L238.50,221.60 L236.00,217.50 L232.90,213.40 L229.30,209.30 L227.30,206.30 L226.70,203.70 L228.50,202.00 L233.00,201.50 L236.50,203.00 L238.00,207.30 L239.20,210.60 L241.60,215.50 L246.00,216.00 L250.80,216.20 L260.00,218.20 L268.20,219.70 L276.40,222.30 L284.60,223.80 L292.70,222.70 L301.00,219.70 L308.10,217.00" fill="none" stroke="#a6a6a6" stroke-width="2.4" stroke-linejoin="round" stroke-linecap="round"/>
<path d="M226.80,203.50 L226.50,207.00 L224.70,210.40 L223.20,215.50 L221.90,220.60 L221.30,225.20 L222.70,228.80 L226.20,230.80 L230.30,231.30 L234.90,230.80 L239.00,229.30 L240.10,225.70 L238.50,221.60 L236.00,217.50 L232.90,213.40 L229.30,209.30 L227.30,206.30 L226.70,203.70 L228.50,202.00 L233.00,201.50 L236.50,203.00 L238.00,207.30 L239.20,210.60 L241.60,215.50 L246.00,216.00 L250.80,216.20 L260.00,218.20 L268.20,219.70 L276.40,222.30 L284.60,223.80 L292.70,222.70 L301.00,219.70 L308.10,217.00" fill="none" stroke="#848484" stroke-width="1.4" stroke-dasharray="0.01 1.9" stroke-linejoin="round" stroke-linecap="round"/>
<path d="M235.40,231.30 L236.00,227.80 L234.40,223.70 L232.40,219.60 L229.80,215.00 L227.30,210.90 L225.20,207.30 L224.70,204.70 L225.70,202.70 L228.80,201.10 L232.90,200.60 L236.00,201.70 L237.50,204.20 L237.50,207.80 L238.50,211.40 L240.60,213.90 L243.10,214.70 L246.70,214.40 L250.80,213.90 L255.30,213.50 L259.70,214.50 L266.10,216.60 L271.30,220.70 L276.40,224.80 L282.50,227.50 L288.70,227.90 L293.80,225.80 L298.90,221.70 L303.00,217.60 L308.10,211.50 L313.20,206.40 L317.30,202.30 L322.00,196.40" fill="none" stroke="#a01818" stroke-width="2.4" stroke-linejoin="round" stroke-linecap="round"/>
<path d="M235.40,231.30 L236.00,227.80 L234.40,223.70 L232.40,219.60 L229.80,215.00 L227.30,210.90 L225.20,207.30 L224.70,204.70 L225.70,202.70 L228.80,201.10 L232.90,200.60 L236.00,201.70 L237.50,204.20 L237.50,207.80 L238.50,211.40 L240.60,213.90 L243.10,214.70 L246.70,214.40 L250.80,213.90 L255.30,213.50 L259.70,214.50 L266.10,216.60 L271.30,220.70 L276.40,224.80 L282.50,227.50 L288.70,227.90 L293.80,225.80 L298.90,221.70 L303.00,217.60 L308.10,211.50 L313.20,206.40 L317.30,202.30 L322.00,196.40" fill="none" stroke="#700606" stroke-width="1.4" stroke-dasharray="0.01 1.9" stroke-linejoin="round" stroke-linecap="round"/>
<line x1="257.9" y1="272.2" x2="270.79999999999995" y2="272.2" stroke="#9a9a9a" stroke-width="0.8"/>
<circle cx="264.34999999999997" cy="272.2" r="1.15" fill="#707070"/>
<line x1="257.9" y1="279" x2="270.79999999999995" y2="279" stroke="#b85858" stroke-width="0.8"/>
<circle cx="264.34999999999997" cy="279" r="1.3" fill="#a01818"/>
<text x="272.3" y="274.3" font-size="7" fill="#222" textLength="20" lengthAdjust="spacingAndGlyphs"><tspan font-style="italic">t</tspan>=150</text>
<text x="272.3" y="281.1" font-size="7" fill="#222" textLength="20" lengthAdjust="spacingAndGlyphs"><tspan font-style="italic">t</tspan>=200</text>
<path d="M236.20,315.20 L236.90,310.10 L234.00,303.50 L229.60,296.90 L226.70,291.10 L227.40,288.20 L231.10,287.00 L235.50,287.90 L237.70,289.60 L238.20,292.50 L238.00,296.00 L239.50,299.00 L243.00,299.30 L247.90,298.00 L253.00,297.50 L258.90,298.60 L264.70,301.50 L268.00,304.80 L275.10,309.60 L282.10,311.40 L289.10,310.20 L291.40,307.50 L294.00,302.00 L297.00,297.50 L300.30,294.00 L304.30,290.80 L307.50,286.80 L309.50,282.00 L312.00,278.00" fill="none" stroke="#a6a6a6" stroke-width="2.4" stroke-linejoin="round" stroke-linecap="round"/>
<path d="M236.20,315.20 L236.90,310.10 L234.00,303.50 L229.60,296.90 L226.70,291.10 L227.40,288.20 L231.10,287.00 L235.50,287.90 L237.70,289.60 L238.20,292.50 L238.00,296.00 L239.50,299.00 L243.00,299.30 L247.90,298.00 L253.00,297.50 L258.90,298.60 L264.70,301.50 L268.00,304.80 L275.10,309.60 L282.10,311.40 L289.10,310.20 L291.40,307.50 L294.00,302.00 L297.00,297.50 L300.30,294.00 L304.30,290.80 L307.50,286.80 L309.50,282.00 L312.00,278.00" fill="none" stroke="#848484" stroke-width="1.4" stroke-dasharray="0.01 1.9" stroke-linejoin="round" stroke-linecap="round"/>
<path d="M225.30,287.60 L229.40,286.40 L233.50,286.40 L235.20,288.20 L235.80,291.70 L236.40,296.40 L238.10,299.90 L242.20,300.80 L250.50,300.90 L257.50,302.60 L264.60,306.70 L271.60,310.20 L278.60,312.50 L285.60,313.20 L289.80,312.30 L293.00,308.20 L295.50,302.60 L297.90,298.60 L301.10,296.20 L305.10,293.80 L308.30,289.70 L309.10,284.90 L310.70,280.90 L313.90,276.10 L317.20,272.10 L320.40,271.60 L323.60,270.90 L327.60,268.80 L333.20,266.80" fill="none" stroke="#a01818" stroke-width="2.4" stroke-linejoin="round" stroke-linecap="round"/>
<path d="M225.30,287.60 L229.40,286.40 L233.50,286.40 L235.20,288.20 L235.80,291.70 L236.40,296.40 L238.10,299.90 L242.20,300.80 L250.50,300.90 L257.50,302.60 L264.60,306.70 L271.60,310.20 L278.60,312.50 L285.60,313.20 L289.80,312.30 L293.00,308.20 L295.50,302.60 L297.90,298.60 L301.10,296.20 L305.10,293.80 L308.30,289.70 L309.10,284.90 L310.70,280.90 L313.90,276.10 L317.20,272.10 L320.40,271.60 L323.60,270.90 L327.60,268.80 L333.20,266.80" fill="none" stroke="#700606" stroke-width="1.4" stroke-dasharray="0.01 1.9" stroke-linejoin="round" stroke-linecap="round"/>
<line x1="256.8" y1="355.2" x2="269.7" y2="355.2" stroke="#9a9a9a" stroke-width="0.8"/>
<circle cx="263.25" cy="355.2" r="1.15" fill="#707070"/>
<line x1="256.8" y1="361.8" x2="269.7" y2="361.8" stroke="#b85858" stroke-width="0.8"/>
<circle cx="263.25" cy="361.8" r="1.3" fill="#a01818"/>
<text x="271.3" y="357.3" font-size="7" fill="#222" textLength="19.8" lengthAdjust="spacingAndGlyphs"><tspan font-style="italic">t</tspan>=200</text>
<text x="271.3" y="363.90000000000003" font-size="7" fill="#222" textLength="19.8" lengthAdjust="spacingAndGlyphs"><tspan font-style="italic">t</tspan>=245</text>
<path d="M229.20,372.70 L233.30,371.30 L236.40,372.30 L238.00,378.40 L239.40,384.20 L242.50,385.40 L250.70,386.00 L260.90,390.20 L268.50,395.30 L275.00,397.60 L279.60,397.80 L282.50,395.50 L284.50,393.00 L287.00,388.00 L289.70,381.80 L293.60,379.80 L297.50,376.80 L299.50,371.40 L300.50,365.50 L302.50,361.60 L305.40,357.80 L312.10,354.70 L318.40,351.60" fill="none" stroke="#a6a6a6" stroke-width="2.4" stroke-linejoin="round" stroke-linecap="round"/>
<path d="M229.20,372.70 L233.30,371.30 L236.40,372.30 L238.00,378.40 L239.40,384.20 L242.50,385.40 L250.70,386.00 L260.90,390.20 L268.50,395.30 L275.00,397.60 L279.60,397.80 L282.50,395.50 L284.50,393.00 L287.00,388.00 L289.70,381.80 L293.60,379.80 L297.50,376.80 L299.50,371.40 L300.50,365.50 L302.50,361.60 L305.40,357.80 L312.10,354.70 L318.40,351.60" fill="none" stroke="#848484" stroke-width="1.4" stroke-dasharray="0.01 1.9" stroke-linejoin="round" stroke-linecap="round"/>
<path d="M242.50,385.60 L250.70,386.20 L256.80,388.60 L263.00,392.70 L269.10,396.80 L275.30,399.30 L279.40,400.10 L283.40,397.90 L286.50,390.70 L288.70,381.20 L291.70,378.20 L294.60,374.30 L296.60,367.50 L298.50,361.60 L302.50,358.60 L308.30,356.70 L314.20,353.70 L320.10,351.40 L326.00,350.20 L329.90,351.80 L332.80,353.70 L335.80,353.30 L339.30,351.40" fill="none" stroke="#a01818" stroke-width="2.4" stroke-linejoin="round" stroke-linecap="round"/>
<path d="M242.50,385.60 L250.70,386.20 L256.80,388.60 L263.00,392.70 L269.10,396.80 L275.30,399.30 L279.40,400.10 L283.40,397.90 L286.50,390.70 L288.70,381.20 L291.70,378.20 L294.60,374.30 L296.60,367.50 L298.50,361.60 L302.50,358.60 L308.30,356.70 L314.20,353.70 L320.10,351.40 L326.00,350.20 L329.90,351.80 L332.80,353.70 L335.80,353.30 L339.30,351.40" fill="none" stroke="#700606" stroke-width="1.4" stroke-dasharray="0.01 1.9" stroke-linejoin="round" stroke-linecap="round"/>
</svg></body></html>
